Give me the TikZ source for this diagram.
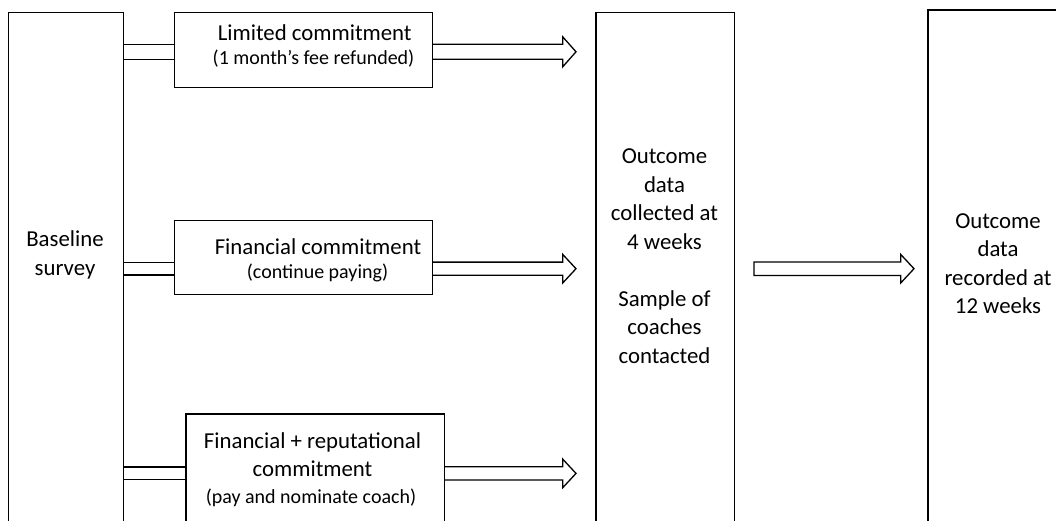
\documentclass[tikz,border=0pt]{standalone}
\usepackage{fontspec}
\setmainfont{Carlito}
\usetikzlibrary{calc}
\begin{document}
\begin{tikzpicture}[x=1pt,y=-1pt,
  frame/.style={draw,line width=1.3pt,inner sep=0pt,anchor=north west},
  head/.style={font=\fontsize{22.8}{28.5}\selectfont,inner sep=0pt,anchor=base},
  note/.style={font=\fontsize{20}{24}\selectfont,inner sep=0pt,anchor=base},
  link/.style={line width=1.3pt},
  % two parallel rails between boxes
  twin/.style={to path={let \p1=(\tikztostart),\p2=(\tikztotarget) in
      (\x1,\y1+#1) -- (\x2,\y1+#1) (\x1,\y1-#1) -- (\x2,\y1-#1)}},
  % hollow block arrow, open at its tail
  blk/.style args={#1 and #2}{to path={let \p1=(\tikztostart),\p2=(\tikztotarget) in
      (\x1,\y1+#1) -- (\x2-13.3,\y1+#1) -- (\x2-13.3,\y1+#2) -- (\x2,\y1)
      -- (\x2-13.3,\y1-#2) -- (\x2-13.3,\y1-#1) -- (\x1,\y1-#1)}},
  % hollow block arrow, closed
  blkc/.style args={#1 and #2}{to path={let \p1=(\tikztostart),\p2=(\tikztotarget) in
      (\x1,\y1+#1) -- (\x2-13.3,\y1+#1) -- (\x2-13.3,\y1+#2) -- (\x2,\y1)
      -- (\x2-13.3,\y1-#2) -- (\x2-13.3,\y1-#1) -- (\x1,\y1-#1) -- cycle}}
]
\useasboundingbox (0,0) rectangle (1056,520);
\clip (0,0) rectangle (1056,520);

% boxes
\node[frame,minimum width=115pt,minimum height=560pt] (base) at (8,11.7) {};
\node[frame,minimum width=258pt,minimum height=75pt] (lim) at (173.7,12) {};
\node[frame,minimum width=258pt,minimum height=74pt] (fin) at (173.7,220) {};
\node[frame,minimum width=258.2pt,minimum height=140pt] (rep) at (185.3,413.3) {};
\node[frame,minimum width=138.4pt,minimum height=560pt] (wk4) at (595.3,11.7) {};
\node[frame,minimum width=200pt,minimum height=560pt] (wk12) at (927.3,9.3) {};

% rows of the connectors
\coordinate (r1) at (0,51.8);
\coordinate (r2) at (0,268.7);
\coordinate (r3) at (0,473.4);
\coordinate (t1) at ($(wk4.west |- r1)+(-19.3,0)$);
\coordinate (t2) at ($(wk4.west |- r2)+(-19.3,0)$);
\coordinate (t3) at ($(wk4.west |- r3)+(-19.3,0)$);
\coordinate (f0) at ($(wk4.east |- r2)+(19,0)$);
\coordinate (f1) at ($(wk12.west |- r2)+(-13.3,0)$);

% connectors
\draw[link,twin=7.5] (base.east |- r1) to (lim.west |- r1);
\draw[link,twin=6.4] (base.east |- r2) to (fin.west |- r2);
\draw[link,twin=6.4] (base.east |- r3) to (rep.west |- r3);
\draw[link,blk=7.5 and 15] (lim.east |- r1) to (t1);
\draw[link,blk=6.6 and 14.3] (fin.east |- r2) to (t2);
\draw[link,blk=6.6 and 14.3] (rep.east |- r3) to (t3);
\draw[link,blkc=6.7 and 14.3] (f0) to (f1);

% labels
\node[head] (bs1) at (65,246.7) {Baseline};
\node[head] (bs2) at (65,275) {survey};

\node[head] (limT) at (314.7,40.5) {Limited commitment};
\node[note] (limN) at (313.5,64.5) {(1 month’s fee refunded)};

\node[head] (finT) at (318,254.5) {Financial commitment};
\node[note] (finN) at (317.5,278.5) {(continue paying)};

\node[head] (repT1) at (312.5,448.3) {Financial + reputational};
\node[head] (repT2) at (312.5,476) {commitment};
\node[note] (repN) at (311,503) {(pay and nominate coach)};

\foreach \t [count=\i] in {Outcome,data,collected at,4 weeks}
  \node[head] (wkA\i) at (664.5,135+28.5*\i) {\t};
\foreach \t [count=\i] in {Sample of,coaches,contacted}
  \node[head] (wkB\i) at (664.5,277.5+28.5*\i) {\t};
\foreach \t [count=\i] in {Outcome,data,recorded at,12 weeks}
  \node[head] (wkC\i) at (998,199.9+28.4*\i) {\t};
\end{tikzpicture}
\end{document}
